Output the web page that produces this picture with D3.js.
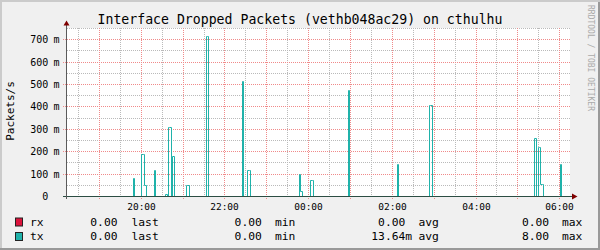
<!DOCTYPE html>
<html><head><meta charset="utf-8">
<script src="https://cdn.jsdelivr.net/npm/d3@7"></script>
<style>html,body{margin:0;padding:0;background:#f0f0f0}svg{display:block}</style>
</head><body>
<svg id="c" width="600" height="250"></svg>
<script>
// ---------- data ----------
const title = "Interface Dropped Packets (vethb048ac29) on cthulhu";
const yAxisTitle = "Packets/s";
const watermark = "RRDTOOL / TOBI OETIKER";
const timeStart = "18:14";   // left edge of plot (approx)
const timeEnd = "06:15";     // right edge of plot (approx)
const sampleMinutes = 2;     // duration of each sample
// tx samples (nonzero only); all other samples are 0
const txTimes = ["19:49","20:01","20:03","20:05","20:19","20:35","20:39","20:41","20:45",
  "21:05","21:07","21:33","21:35","22:25","22:33","22:35","23:47","23:49","00:03","00:05",
  "00:57","02:07","02:53","02:55","05:24","05:29","05:31","05:33","05:35","06:01"];
const txValues = [0.079,0.188,0.188,0.048,0.116,0.009,0.308,0.308,0.179,
  0.048,0.048,0.715,0.715,0.515,0.116,0.116,0.098,0.021,0.072,0.072,
  0.475,0.143,0.407,0.407,0.260,0.220,0.220,0.054,0.054,0.143];
// rx is zero all along
const rxTimes = [];
const rxValues = [];
const yTicks = [0,0.1,0.2,0.3,0.4,0.5,0.6,0.7];
const yTickNumbers = ["0","100","200","300","400","500","600","700"];
const yTickUnits = ["","m","m","m","m","m","m","m"];
const xTickLabels = ["20:00","22:00","00:00","02:00","04:00","06:00"];
const legendNames = ["rx","tx"];
const legendColors = ["#dc143c","#20b2aa"];
const legendLast = ["0.00","0.00"];
const legendMin = ["0.00","0.00"];
const legendAvg = ["0.00","13.64"];
const legendAvgUnit = ["","m"];
const legendMax = ["0.00","8.00"];

// ---------- helpers ----------
function toMin(s){ const [h,m]=s.split(":").map(Number); let t=h*60+m; if(h<12) t+=1440; return t; }
const FONT = "DejaVu Sans Mono, monospace";
const svg = d3.select("#c");

// background and shades
svg.append("rect").attr("width",600).attr("height",250).attr("fill","#f0f0f0");
svg.append("path").attr("d","M0,0H600V2H2V250H0Z").attr("fill","#cbcbcb");
svg.append("path").attr("d","M598,2H600V250H0V248H598Z").attr("fill","#999999");

const x = d3.scaleLinear().domain([toMin(timeStart)+0.3, toMin(timeEnd)+0.4]).range([67,570]);
const y = d3.scaleLinear().domain([0,0.75]).range([196,28]);
const sx = v => Math.round(x(v)) + 0.5;
const sy = v => Math.round(y(v)) + 0.5;

// canvas
svg.append("rect").attr("x",67).attr("y",28).attr("width",503).attr("height",168).attr("fill","#ffffff");

// grid
const g = svg.append("g").attr("stroke-width",1).attr("fill","none").attr("stroke-dasharray","1,1");
const [d0,d1] = x.domain();
const minorV = d3.range(Math.ceil(d0/30)*30, d1, 30).filter(t => t%60 !== 0);
const majorV = d3.range(Math.ceil(d0/60)*60, d1, 60);
const minorH = y.ticks(15).filter(v => Math.round(v*100)%10 !== 0 && v>0);
const majorH = y.ticks(8).filter(v => v>0);
g.selectAll(".mv").data(minorV).join("line").attr("stroke","#bababa")
  .attr("x1",d=>sx(d)).attr("x2",d=>sx(d)).attr("y1",28).attr("y2",196);
g.selectAll(".mh").data(minorH).join("line").attr("stroke","#bababa")
  .attr("x1",67).attr("x2",570).attr("y1",d=>sy(d)).attr("y2",d=>sy(d));
g.selectAll(".Mv").data(majorV).join("line").attr("stroke","#f08a8a")
  .attr("x1",d=>sx(d)).attr("x2",d=>sx(d)).attr("y1",28).attr("y2",199);
g.selectAll(".Mh").data(majorH).join("line").attr("stroke","#f08a8a")
  .attr("x1",63).attr("x2",570).attr("y1",d=>sy(d)).attr("y2",d=>sy(d));

// series
function buildSteps(times, values){
  const pts = [{t:d0, v:0}];
  const s = times.map((t,i)=>({t:toMin(t), v:values[i]}));
  s.forEach((p,i)=>{
    pts.push(p);
    const end = p.t + sampleMinutes;
    if(!(s[i+1] && s[i+1].t === end)) pts.push({t:end, v:0});
  });
  pts.push({t:d1, v:0});
  return pts;
}
const line = d3.line().x(d=>sx(d.t)).y(d=>sy(d.v)).curve(d3.curveStepAfter);
svg.append("path").datum(buildSteps(rxTimes, rxValues)).attr("d",line)
  .attr("fill","none").attr("stroke",legendColors[0]).attr("stroke-width",1);
svg.append("path").datum(buildSteps(txTimes, txValues)).attr("d",line)
  .attr("fill","none").attr("stroke",legendColors[1]).attr("stroke-width",1);

// axes
svg.append("line").attr("x1",63).attr("x2",573).attr("y1",196.5).attr("y2",196.5).attr("stroke","#2c4d43");
svg.append("line").attr("x1",66.5).attr("x2",66.5).attr("y1",199).attr("y2",25).attr("stroke","#5a5a5a");
svg.append("path").attr("d","M63.5,25.5L69.5,25.5L66.5,20.5Z").attr("fill","#7f0000");
svg.append("path").attr("d","M572,193.5L572,199.5L577.5,196.5Z").attr("fill","#7f0000");

// y tick labels
const yl = svg.append("g").attr("font-family",FONT).attr("font-size",10).attr("fill","#000");
yl.selectAll(".n").data(yTicks).join("text").attr("text-anchor","end")
  .attr("x",48.3).attr("y",d=>sy(d)+3.2).text((d,i)=>yTickNumbers[i]);
yl.selectAll(".u").data(yTicks).join("text")
  .attr("x",53.6).attr("y",d=>sy(d)+3.2).text((d,i)=>yTickUnits[i]);

// x tick labels
const xTickPos = xTickLabels.map(toMin);
svg.append("g").attr("font-family",FONT).attr("font-size",9.5).attr("fill","#000")
  .selectAll("text").data(xTickPos).join("text").attr("text-anchor","middle")
  .attr("x",d=>sx(d)).attr("y",209.5).text((d,i)=>xTickLabels[i]);

// title
svg.append("text").attr("x",300).attr("y",24).attr("text-anchor","middle")
  .attr("font-family",FONT).attr("font-size",13.2).attr("fill","#000").text(title);
// y axis title
svg.append("text").attr("transform","translate(13.5,111) rotate(-90)").attr("text-anchor","middle")
  .attr("font-family",FONT).attr("font-size",11).attr("fill","#000").text(yAxisTitle);
// watermark
svg.append("text").attr("transform","translate(587.5,5) rotate(90)")
  .attr("font-family",FONT).attr("font-size",8).attr("fill","#aaaaaa").text(watermark);

// legend
const lg = svg.append("g").attr("font-family",FONT).attr("font-size",11.3).attr("fill","#000");
legendNames.forEach((n,i)=>{
  const by = 225.5 + i*14.5;
  lg.append("rect").attr("x",15.5).attr("y",by-7.5).attr("width",7).attr("height",8)
    .attr("fill",legendColors[i]).attr("stroke","#222").attr("stroke-width",1);
  lg.append("text").attr("x",30).attr("y",by).text(n);
  lg.append("text").attr("x",117.5).attr("y",by).attr("text-anchor","end").text(legendLast[i]);
  lg.append("text").attr("x",131.5).attr("y",by).text("last");
  lg.append("text").attr("x",261.8).attr("y",by).attr("text-anchor","end").text(legendMin[i]);
  lg.append("text").attr("x",275).attr("y",by).text("min");
  lg.append("text").attr("x",405.3).attr("y",by).attr("text-anchor","end").text(legendAvg[i]);
  lg.append("text").attr("x",405.3).attr("y",by).text(legendAvgUnit[i]);
  lg.append("text").attr("x",418.5).attr("y",by).text("avg");
  lg.append("text").attr("x",549.2).attr("y",by).attr("text-anchor","end").text(legendMax[i]);
  lg.append("text").attr("x",562).attr("y",by).text("max");
});
</script>
</body></html>
